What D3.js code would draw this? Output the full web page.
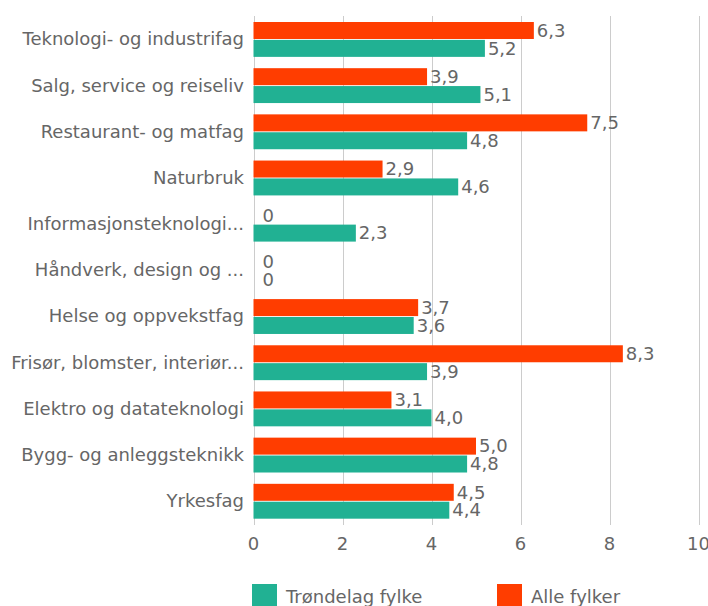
<!DOCTYPE html>
<html>
    <head>
        <meta charset="UTF-8">
        <script src="https://d3js.org/d3.v7.min.js"></script>

        <style>
            body {
                margin: 0;
                font-family: "DejaVu Sans", Verdana, sans-serif;
                background: white;
            }

            .grid line {
                stroke: #cccccc;
                stroke-width: 1px;
            }

            .cat-label, .tick-label, .value-label, .legend-label {
                fill: #666666;
                font-size: 18px;
            }
        </style>
    </head>
    <body>
        <svg></svg>

        <script>

            const categories = [
                "Teknologi- og industrifag",
                "Salg, service og reiseliv",
                "Restaurant- og matfag",
                "Naturbruk",
                "Informasjonsteknologi...",
                "Håndverk, design og ...",
                "Helse og oppvekstfag",
                "Frisør, blomster, interiør...",
                "Elektro og datateknologi",
                "Bygg- og anleggsteknikk",
                "Yrkesfag"
            ];

            const alleFylker = [6.3, 3.9, 7.5, 2.9, 0, 0, 3.7, 8.3, 3.1, 5.0, 4.5];
            const trondelag  = [5.2, 5.1, 4.8, 4.6, 2.3, 0, 3.6, 3.9, 4.0, 4.8, 4.4];

            const seriesNames = ["Alle fylker", "Trøndelag fylke"];
            const legendOrder = ["Trøndelag fylke", "Alle fylker"];
            const xTicks = [0, 2, 4, 6, 8, 10];

            const colors = {
                "Alle fylker": "#ff3d00",
                "Trøndelag fylke": "#21b193"
            };

            function fmt (v) {
                return v === 0 ? "0" : v.toFixed(1).replace(".", ",");
            }

            function drawGraph () {
                const width = 708,
                    height = 606;

                const svg = d3.select("svg")
                    .attr("width", width)
                    .attr("height", height);

                const x = d3.scaleLinear()
                    .domain([0, 10])
                    .range([253.5, 698.5]);

                const y = d3.scaleBand()
                    .domain(categories)
                    .range([16, 524]);

                const sub = d3.scaleBand()
                    .domain(seriesNames)
                    .range([y.bandwidth() * 0.13, y.bandwidth() * 0.885])
                    .paddingInner(0.05);

                const rows = categories.map((c, i) => ({
                    cat: c,
                    values: [
                        { name: "Alle fylker", value: alleFylker[i] },
                        { name: "Trøndelag fylke", value: trondelag[i] }
                    ]
                }));

                // grid
                svg.append("g")
                    .attr("class", "grid")
                    .selectAll("line")
                    .data(xTicks)
                    .join("line")
                        .attr("x1", d => Math.round(x(d)) + 0.5)
                        .attr("x2", d => Math.round(x(d)) + 0.5)
                        .attr("y1", 16)
                        .attr("y2", 525);

                // tick labels
                svg.append("g")
                    .selectAll("text")
                    .data(xTicks)
                    .join("text")
                        .attr("class", "tick-label")
                        .attr("x", d => x(d))
                        .attr("y", 550)
                        .attr("text-anchor", "middle")
                        .text(d => d);

                // category labels
                svg.append("g")
                    .selectAll("text")
                    .data(categories)
                    .join("text")
                        .attr("class", "cat-label")
                        .attr("x", 244)
                        .attr("y", d => y(d) + y.bandwidth() / 2)
                        .attr("dy", "0.35em")
                        .attr("text-anchor", "end")
                        .text(d => d);

                // bars
                const groups = svg.append("g")
                    .selectAll("g")
                    .data(rows)
                    .join("g")
                        .attr("transform", d => `translate(0, ${y(d.cat)})`);

                groups.selectAll("rect")
                    .data(d => d.values)
                    .join("rect")
                        .attr("x", x(0))
                        .attr("y", d => sub(d.name))
                        .attr("width", d => x(d.value) - x(0))
                        .attr("height", sub.bandwidth())
                        .attr("fill", d => colors[d.name]);

                groups.selectAll("text")
                    .data(d => d.values)
                    .join("text")
                        .attr("class", "value-label")
                        .attr("x", d => x(d.value) + (d.value === 0 ? 9 : 3))
                        .attr("y", d => sub(d.name) + sub.bandwidth() / 2)
                        .attr("dy", "0.35em")
                        .text(d => fmt(d.value));

                // legend
                const legend = svg.append("g")
                    .selectAll("g")
                    .data(legendOrder)
                    .join("g")
                        .attr("transform", (d, i) => `translate(${i === 0 ? 252 : 497}, 584)`);

                legend.append("rect")
                    .attr("width", 25)
                    .attr("height", 25)
                    .attr("fill", d => colors[d]);

                legend.append("text")
                    .attr("class", "legend-label")
                    .attr("x", 34)
                    .attr("y", 19)
                    .text(d => d);
            }

            drawGraph();

        </script>
    </body>
</html>
